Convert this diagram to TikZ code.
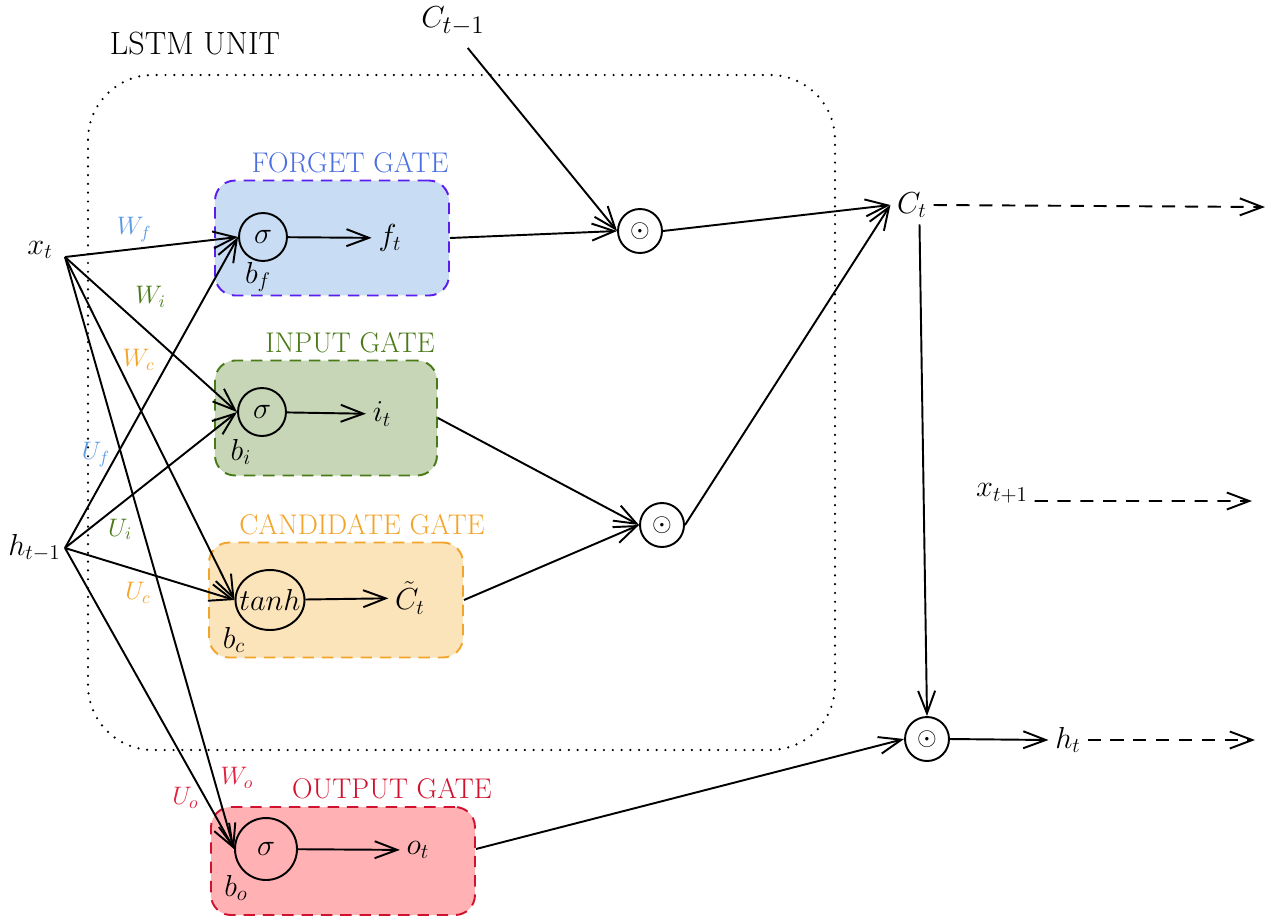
\documentclass[tikz,border=0pt]{standalone}
\usepackage{amsmath}
\usetikzlibrary{positioning}
\usetikzlibrary{arrows.meta}
\usetikzlibrary{shapes.geometric}

\definecolor{forgetfill}{HTML}{C8DCF3}
\definecolor{forgetdraw}{HTML}{5B1CF0}
\definecolor{forgettext}{HTML}{4B6FE0}
\definecolor{forgetwt}{HTML}{5B9BE6}
\definecolor{inputfill}{HTML}{C6D6B6}
\definecolor{inputdraw}{HTML}{4A7A17}
\definecolor{candfill}{HTML}{FBE3BA}
\definecolor{canddraw}{HTML}{F3A42B}
\definecolor{outfill}{HTML}{FFB1B3}
\definecolor{outdraw}{HTML}{D0122F}
\definecolor{outwt}{HTML}{E0233F}

\tikzset{
  gate/.style     = { rectangle, rounded corners=4mm, line width=1.1pt, dash pattern=on 6.5pt off 4.5pt, minimum height=2.3cm },
  header/.style   = { font=\fontsize{16.2}{19}\selectfont },
  title/.style    = { font=\fontsize{18.3}{22}\selectfont },
  neuron/.style   = { circle, draw, minimum size=9.6mm, inner sep=0pt },
  squash/.style   = { ellipse, draw, minimum width=13.8mm, minimum height=12mm, inner sep=0pt },
  product/.style  = { circle, draw, minimum size=8.8mm, inner sep=0pt, font=\Large },
  weight/.style   = { font=\fontsize{13.8}{16}\selectfont },
  boundary/.style = { line width=1.4pt, dash pattern=on 0pt off 5pt, line cap=round, rounded corners=13mm },
  carry/.style    = { ->, dash pattern=on 7.5pt off 5.5pt },
}

\begin{document}
\begin{tikzpicture}[
  x=0.02cm, y=-0.02cm,
  >={Straight Barb[length=4.5mm,width=3.4mm]},
  line width=1.1pt, font=\LARGE,
]
  \useasboundingbox (0,0) rectangle (1277,917);

  \draw [boundary] (88,75) rectangle (835,750);
  \node (unit)   [title] at (195,44) {LSTM UNIT};

  % gate boxes
  \node (fbox)   [gate, fill=forgetfill, draw=forgetdraw, minimum width=4.68cm] at (332,238) {};
  \node (ibox)   [gate, fill=inputfill,  draw=inputdraw,  minimum width=4.44cm] at (326,418) {};
  \node (cbox)   [gate, fill=candfill,   draw=canddraw,   minimum width=5.08cm] at (336,600) {};
  \node (obox)   [gate, fill=outfill,    draw=outdraw,    minimum width=5.28cm, minimum height=2.16cm] at (343,861) {};

  \node (flabel) [header, text=forgettext, above=0pt of fbox, xshift=3.6mm] {FORGET GATE};
  \node (ilabel) [header, text=inputdraw,  above=0pt of ibox, xshift=4.8mm] {INPUT GATE};
  \node (clabel) [header, text=canddraw,   above=0pt of cbox, xshift=5.2mm] {CANDIDATE GATE};
  \node (olabel) [header, text=outdraw,    above=0pt of obox, xshift=9.8mm] {OUTPUT GATE};

  % activations
  \node (fsig)   [neuron] at (263,237) {$\sigma$};
  \node (isig)   [neuron] at (262,412) {$\sigma$};
  \node (ctanh)  [squash, label=center:{$tanh$}] at (270,600) {};
  \node (osig)   [neuron, minimum size=12.4mm] at (266,849) {$\sigma$};

  \node (ft)     at (390,238) {$f_t$};
  \node (it)     at (382,414) {$i_t$};
  \node (ctil)   at (410,598) {$\tilde{C}_t$};
  \node (ot)     at (418,850) {$o_t$};

  \node (bf)     at (258,277) {$b_f$};
  \node (bi)     at (241,452) {$b_i$};
  \node (bc)     at (234,640) {$b_c$};
  \node (bo)     at (236,888) {$b_o$};

  % inputs and outputs
  \node (xt)     [anchor=south east, inner xsep=6.5pt, inner ysep=-1.5pt] at (65,257) {$x_t$};
  \node (ht)     [anchor=east, inner sep=2pt] at (65,548) {$h_{t-1}$};
  \node (cprev)  [font=\fontsize{19}{22}\selectfont] at (453,21) {$C_{t-1}$};
  \node (ct)     at (912,205)  {$C_t$};
  \node (xnext)  at (1002,493) {$x_{t+1}$};
  \node (hnow)   at (1068,740) {$h_t$};

  \node (m1)     [product] at (640,231) {$\odot$};
  \node (m2)     [product] at (662,525) {$\odot$};
  \node (m3)     [product] at (927,739) {$\odot$};

  \coordinate (cout) at (1265,207);
  \coordinate (xout) at (1252,501);
  \coordinate (hout) at (1255,740);

  % weighted inputs
  \draw [->] (xt.south east) -- (fsig.west)  node [weight, text=forgetwt, pos=0.4, above]        {$W_f$};
  \draw [->] (xt.south east) -- (isig.west)  node [weight, text=inputdraw, pos=0.37, above right] {$W_i$};
  \draw [->] (xt.south east) -- (ctanh.west) node [weight, text=canddraw, pos=0.3, right]         {$W_c$};
  \draw [->] (xt.south east) -- (osig.west)  node [weight, text=outwt, pos=0.88, right]           {$W_o$};
  \draw [->] (ht.east) -- (fsig.west)  node [weight, text=forgetwt, pos=0.3, left]          {$U_f$};
  \draw [->] (ht.east) -- (isig.west)  node [weight, text=inputdraw, pos=0.32, below=1.5mm] {$U_i$};
  \draw [->] (ht.east) -- (ctanh.west) node [weight, text=canddraw, pos=0.43, below=1mm]    {$U_c$};
  \draw [->] (ht.east) -- (osig.west)  node [weight, text=outwt, pos=0.83, left]            {$U_o$};

  \draw [->] (fsig)  -- (ft);
  \draw [->] (isig)  -- (it);
  \draw [->] (ctanh) -- (ctil);
  \draw [->] (osig)  -- (ot);

  % cell state and output
  \draw [->, shorten <=1.5mm] ([xshift=2mm]cprev.south) -- (m1.west);
  \draw [->] (fbox.east) -- (m1.west);
  \draw [->] (ibox.east) -- (m2.west);
  \draw [->] (cbox.east) -- (m2.west);
  \draw [->] (m1.east) -- (ct.west);
  \draw [->] (m2.east) -- (ct.west);
  \draw [->] ([xshift=1.5mm]ct.south) -- (m3.north);
  \draw [->] (obox.east |- osig) -- (m3.west);
  \draw [->] (m3.east) -- (hnow.west);

  \draw [carry] (ct.east) -- (cout);
  \draw [carry] ([yshift=-1.6mm]xnext.east) -- (xout);
  \draw [carry] (hnow.east) -- (hout);
\end{tikzpicture}
\end{document}
